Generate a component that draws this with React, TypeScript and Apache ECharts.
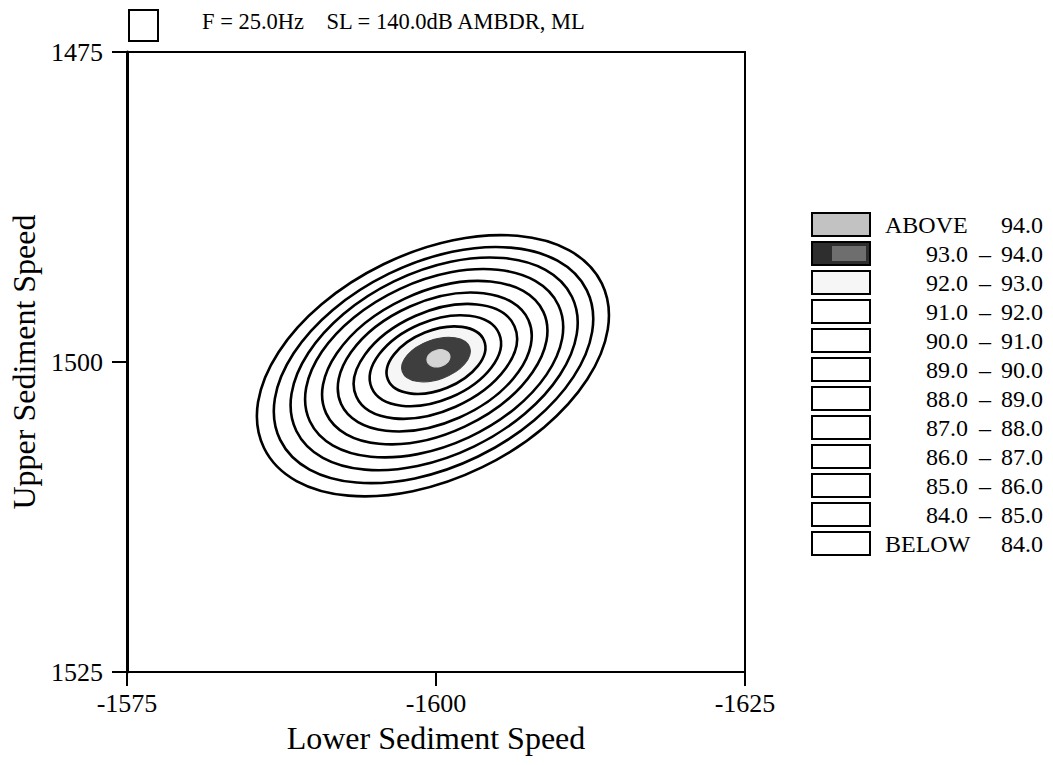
import React, { useEffect, useRef } from "react";
import * as echarts from "echarts";

// Contour levels (dB) and the ellipse that traces each level in data units
const contourLevels = [84, 85, 86, 87, 88, 89, 90, 91, 92, 93, 94];
const contourCenterX = [-1599.75, -1599.8, -1599.85, -1599.85, -1599.9, -1599.9, -1599.95, -1599.95, -1600.0, -1600.0, -1600.2];
const contourCenterY = [1500.3, 1500.25, 1500.15, 1500.1, 1500.05, 1500.0, 1499.95, 1499.9, 1499.85, 1499.8, 1499.7];
const contourSemiMajor = [15.2, 13.8, 12.4, 11.1, 9.7, 8.3, 7.0, 5.6, 4.2, 2.9, 0.95];
const contourSemiMinor = [9.1, 8.2, 7.4, 6.6, 5.7, 4.9, 4.0, 3.2, 2.4, 1.6, 0.68];
const contourTiltDeg = [26, 26, 26, 25, 25, 24, 24, 23, 22, 20, 15];

// Legend rows
const legendLow = ["ABOVE", "93.0", "92.0", "91.0", "90.0", "89.0", "88.0", "87.0", "86.0", "85.0", "84.0", "BELOW"];
const legendHigh = ["94.0", "94.0", "93.0", "92.0", "91.0", "90.0", "89.0", "88.0", "87.0", "86.0", "85.0", "84.0"];

const titleText = "F = 25.0Hz    SL = 140.0dB AMBDR, ML";

const FONT = "'Liberation Serif', 'Times New Roman', serif";

// Fill for the band lying inside each contour level
const bandFill: Record<number, string> = {
  92: "#f6f6f6",
  93: "#3e3e3e",
  94: "#d4d4d4",
};
const legendFill = ["#c2c2c2", "#2e2e2e", "#f6f6f6", "#fff", "#fff", "#fff", "#fff", "#fff", "#fff", "#fff", "#fff", "#fff"];

export default function App() {
  const ref = useRef<HTMLDivElement>(null);

  useEffect(() => {
    if (!ref.current) return;
    const chart = echarts.init(ref.current, undefined, { renderer: "svg" });

    const contourData = contourLevels.map((lvl, i) => [
      contourCenterX[i],
      contourCenterY[i],
      contourSemiMajor[i],
      contourSemiMinor[i],
      contourTiltDeg[i],
      lvl,
    ]);

    const legendTop = 213;
    const legendStep = 29;
    const legendGraphics: any[] = [];
    legendLow.forEach((low, i) => {
      const y = legendTop + i * legendStep;
      const mid = y + 12;
      legendGraphics.push({
        type: "rect",
        shape: { x: 812, y, width: 58, height: 23 },
        style: { fill: legendFill[i], stroke: "#000", lineWidth: 2 },
      });
      if (i === 1) {
        // stippled patch inside the dark swatch
        legendGraphics.push({
          type: "rect",
          shape: { x: 832, y: y + 4, width: 34, height: 15 },
          style: { fill: "#6e6e6e" },
        });
      }
      const textStyle = { fontFamily: FONT, fontSize: 24, fill: "#000", verticalAlign: "middle" };
      if (low === "ABOVE" || low === "BELOW") {
        legendGraphics.push({ type: "text", x: 885, y: mid, style: { ...textStyle, text: low, align: "left" } });
      } else {
        legendGraphics.push({ type: "text", x: 968, y: mid, style: { ...textStyle, text: low, align: "right" } });
        legendGraphics.push({ type: "text", x: 985, y: mid, style: { ...textStyle, text: "\u2013", align: "center" } });
      }
      legendGraphics.push({ type: "text", x: 1043, y: mid, style: { ...textStyle, text: legendHigh[i], align: "right" } });
    });

    chart.setOption({
      animation: false,
      backgroundColor: "#fff",
      textStyle: { fontFamily: FONT, color: "#000" },
      grid: {
        left: 127,
        top: 52,
        width: 618,
        height: 620,
        show: true,
        borderColor: "#000",
        borderWidth: 2,
        backgroundColor: "transparent",
      },
      xAxis: {
        type: "value",
        min: -1625,
        max: -1575,
        interval: 25,
        inverse: true,
        name: "Lower Sediment Speed",
        nameLocation: "middle",
        nameGap: 50,
        nameTextStyle: { fontFamily: FONT, fontSize: 32, color: "#000" },
        axisLine: { lineStyle: { color: "#000", width: 2 } },
        axisTick: { length: 14, lineStyle: { color: "#000", width: 2 } },
        axisLabel: { fontFamily: FONT, fontSize: 26, color: "#000", margin: 18, formatter: (v: number) => String(v) },
        splitLine: { show: false },
      },
      yAxis: {
        type: "value",
        min: 1475,
        max: 1525,
        interval: 25,
        inverse: true,
        name: "Upper Sediment Speed",
        nameLocation: "middle",
        nameRotate: 90,
        nameGap: 86,
        nameTextStyle: { fontFamily: FONT, fontSize: 32, color: "#000" },
        axisLine: { lineStyle: { color: "#000", width: 3 } },
        axisTick: { length: 15, lineStyle: { color: "#000", width: 2 } },
        axisLabel: { fontFamily: FONT, fontSize: 26, color: "#000", margin: 24, formatter: (v: number) => String(v) },
        splitLine: { show: false },
      },
      series: [
        {
          type: "custom",
          coordinateSystem: "cartesian2d",
          encode: { x: 0, y: 1 },
          clip: true,
          data: contourData,
          renderItem: (_params: any, api: any) => {
            const c = api.coord([api.value(0), api.value(1)]);
            const rx = api.size([api.value(2), 0])[0];
            const ry = api.size([0, api.value(3)])[1];
            const level = api.value(5);
            const fill = bandFill[level] || "#fff";
            const stroked = level <= 92;
            return {
              type: "ellipse",
              x: c[0],
              y: c[1],
              rotation: (api.value(4) * Math.PI) / 180,
              shape: { cx: 0, cy: 0, rx, ry },
              style: {
                fill,
                stroke: stroked ? "#000" : fill,
                lineWidth: stroked ? 2.6 : 1,
              },
            };
          },
        },
      ],
      graphic: [
        {
          type: "rect",
          shape: { x: 129, y: 10, width: 29, height: 31 },
          style: { fill: "#fff", stroke: "#000", lineWidth: 2 },
        },
        {
          type: "text",
          x: 202,
          y: 21,
          style: { text: titleText, fontFamily: FONT, fontSize: 22.5, fill: "#000", verticalAlign: "middle", align: "left" },
        },
        ...legendGraphics,
      ],
    });

    return () => chart.dispose();
  }, []);

  return <div ref={ref} style={{ width: 1053, height: 765, margin: -8 }} />;
}
